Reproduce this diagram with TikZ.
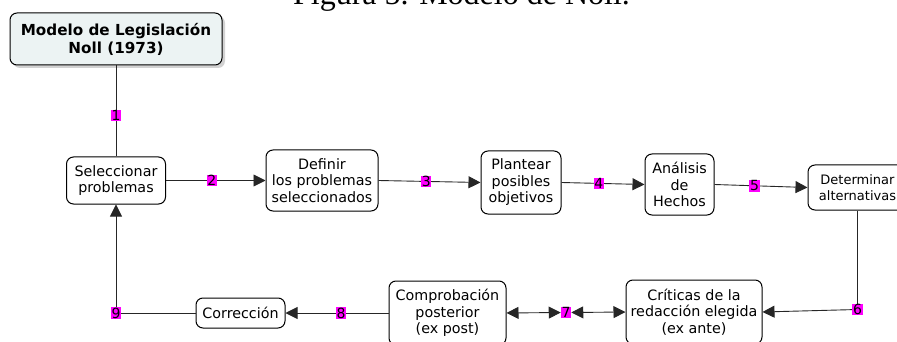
\documentclass[tikz,border=0pt]{standalone}
\usepackage{fontspec}
\setmainfont{DejaVu Sans}
\newfontfamily\capfont{Liberation Serif}
\usetikzlibrary{arrows.meta,shadows}
\definecolor{titlefill}{RGB}{236,243,243}
\definecolor{lblmag}{RGB}{255,0,255}
\begin{document}
\begin{tikzpicture}[x=1pt,y=-1pt,
  box/.style={draw=black, line width=1pt, rounded corners=7pt, fill=white, align=center,
    font=\fontsize{14.3}{16.5}\selectfont, inner sep=0pt},
  lbl/.style={fill=lblmag, inner sep=0.6pt, font=\fontsize{14}{14}\selectfont, text=black},
  conn/.style={line width=0.9pt, draw=black!85},
  tip/.tip={Triangle[length=12pt,width=12pt]},
  arr/.style={conn, -tip},
  darr/.style={conn, tip-tip},
]
\useasboundingbox (0,0) rectangle (897,342);
\node[font=\capfont\fontsize{32}{32}\selectfont, anchor=base] (cap) at (461.5,4.5) {Figura 5. Modelo de Noll.};

\node[box, fill=titlefill, minimum width=212pt, minimum height=52pt,
  font=\bfseries\fontsize{15.2}{18}\selectfont,
  drop shadow={shadow xshift=3pt, shadow yshift=-3pt, fill=black!35}] (title) at (116,39)
  {Modelo de Legislación\\Noll (1973)};
\node[box, minimum width=99pt, minimum height=47pt] (sel) at (116,180.5) {Seleccionar\\problemas};
\node[box, minimum width=112pt, minimum height=61pt] (def) at (322,180.5) {Definir\\los problemas\\seleccionados};
\node[box, minimum width=80pt, minimum height=63pt] (plan) at (521,182.5) {Plantear\\posibles\\objetivos};
\node[box, minimum width=69pt, minimum height=61pt] (ana) at (679.5,184.5) {Análisis\\de\\Hechos};
\node[box, minimum width=99pt, minimum height=45pt, font=\fontsize{13}{16}\selectfont] (det) at (857.5,187.5) {Determinar\\alternativas};
\node[box, minimum width=136pt, minimum height=64pt] (crit) at (694,312) {Críticas de la\\redacción elegida\\(ex ante)};
\node[box, minimum width=117pt, minimum height=64pt] (comp) at (447.5,313) {Comprobación\\posterior\\(ex post)};
\node[box, minimum width=89pt, minimum height=30pt] (corr) at (240.5,313) {Corrección};

\draw[conn] (title) -- node[lbl, pos=0.55] (l1) {1} (sel);
\draw[arr] (sel) -- node[lbl, pos=0.46] (l2) {2} (def);
\draw[arr] (def.east) -- node[lbl, pos=0.47] (l3) {3} (plan.west);
\draw[arr] (plan.east) -- node[lbl, pos=0.45] (l4) {4} (ana.west);
\draw[arr] (ana.east) -- node[lbl, pos=0.43] (l5) {5} (det.west);

\coordinate (c6) at (857.5,309.5);
\draw[conn] (det.south) -- (c6);
\draw[arr] (c6) -- (crit.east);
\node[lbl] (l6) at (c6) {6};

\node[lbl] (l7) at (566,312.5) {7};
\draw[darr] (comp.east) -- (l7.west);
\draw[darr] (l7.east) -- (crit.west);

\draw[arr] (comp.west) -- node[lbl, pos=0.46] (l8) {8} (corr.east);

\coordinate (c9) at (116,313);
\draw[conn] (corr.west) -- (c9);
\draw[arr] (c9) -- (sel.south);
\node[lbl] (l9) at (c9) {9};
\end{tikzpicture}
\end{document}
